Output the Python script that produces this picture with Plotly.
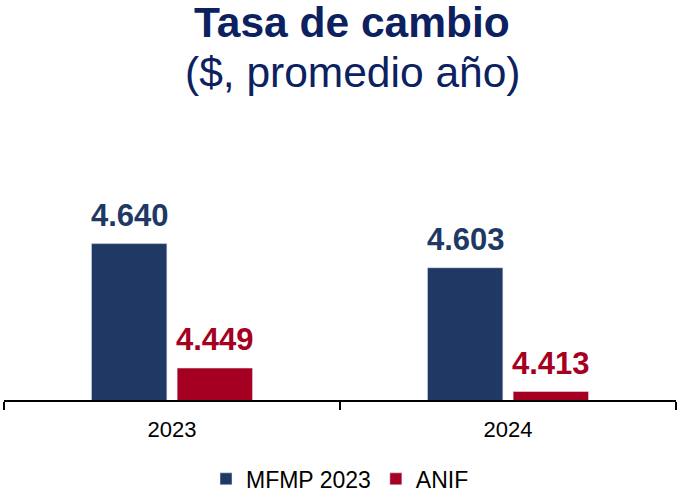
import plotly.graph_objects as go

years = ["2023", "2024"]
mfmp = [4640, 4603]
anif = [4449, 4413]
series_names = ["MFMP 2023", "ANIF"]
colors = ["#203864", "#A50021"]
title_color = "#0C2160"

def fmt(v):
    return f"{v:,.0f}".replace(",", ".")

fig = go.Figure()
fig.add_trace(go.Bar(x=years, y=mfmp, name=series_names[0], marker_color=colors[0]))
fig.add_trace(go.Bar(x=years, y=anif, name=series_names[1], marker_color=colors[1]))

annotations = []
for vals, col, shift in [(mfmp, colors[0], -42.5), (anif, colors[1], 42.5)]:
    for i, v in enumerate(vals):
        annotations.append(dict(x=i, xref="x", y=v, yref="y", text=f"<b>{fmt(v)}</b>", showarrow=False,
                                xanchor="center", yanchor="bottom", xshift=shift, yshift=9,
                                font=dict(size=31, color=col, family="Liberation Sans")))

annotations.append(dict(x=0.5, xref="paper", y=1.0, yref="paper", yanchor="top",
                        text="<b>Tasa de cambio</b>", showarrow=False, xshift=12,
                        font=dict(size=42.5, color=title_color, family="Liberation Sans"), yshift=158))
annotations.append(dict(x=0.5, xref="paper", y=1.0, yref="paper", yanchor="top",
                        text="($, promedio año)", showarrow=False, xshift=12,
                        font=dict(size=42.5, color=title_color, family="Liberation Sans"), yshift=108))

fig.update_layout(
    width=680, height=504,
    margin=dict(l=4, r=4, t=155, b=91),
    paper_bgcolor="white", plot_bgcolor="white",
    barmode="group", bargap=0.49, bargroupgap=0.12,
    font=dict(family="Liberation Sans", color="black"),
    showlegend=True,
    legend=dict(orientation="h", x=0.5, xanchor="center", y=-0.322, yanchor="middle",
                font=dict(size=23, color="black"), itemwidth=30),
    annotations=annotations,
)
fig.update_xaxes(type="category", categoryorder="array", categoryarray=years, range=[-0.5, 1.5],
                 automargin=False,
                 showline=True, linecolor="black", linewidth=2, ticks="outside",
                 tickson="boundaries", ticklen=8, tickcolor="black", tickwidth=2,
                 ticklabelstandoff=9,
                 tickfont=dict(size=22, color="black"), showgrid=False)
fig.update_yaxes(range=[4400, 4776], visible=False, showgrid=False, automargin=False)

fig.write_html("out.html", config={"displayModeBar": False},
               post_script="document.body.style.margin='0';document.body.style.padding='0';")
